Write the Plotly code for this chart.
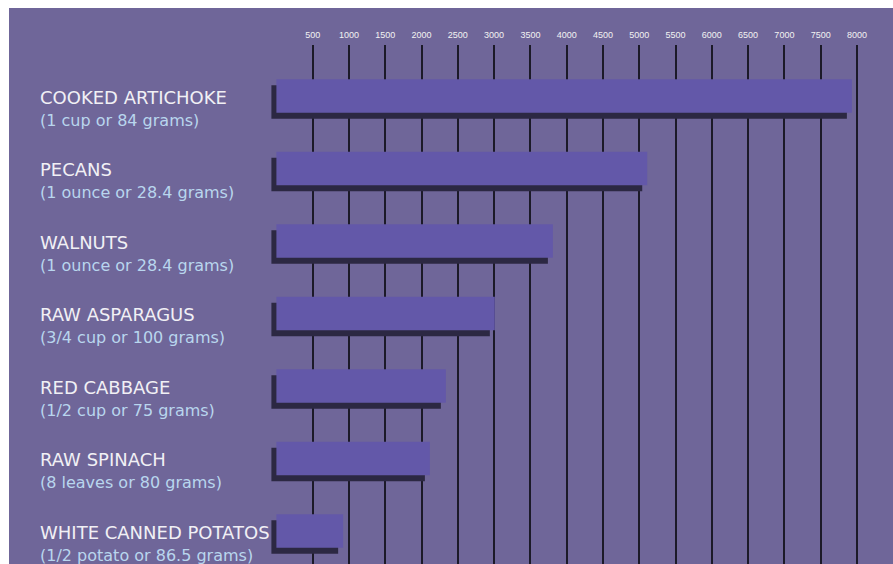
import plotly.graph_objects as go

foods = ["COOKED ARTICHOKE", "PECANS", "WALNUTS", "RAW ASPARAGUS",
         "RED CABBAGE", "RAW SPINACH", "WHITE CANNED POTATOS"]
servings = ["(1 cup or 84 grams)", "(1 ounce or 28.4 grams)", "(1 ounce or 28.4 grams)",
            "(3/4 cup or 100 grams)", "(1/2 cup or 75 grams)", "(8 leaves or 80 grams)",
            "(1/2 potato or 86.5 grams)"]
values = [7930, 5110, 3810, 3010, 2335, 2115, 920]
tick_values = [500, 1000, 1500, 2000, 2500, 3000, 3500, 4000,
               4500, 5000, 5500, 6000, 6500, 7000, 7500, 8000]

BG = "#6f6699"
BAR = "#6358a9"
SHADOW = "#2c2843"
W, H = 893, 564
ML, MR, MT, MB = 9, 3, 45, 0
plot_w = W - ML - MR
plot_h = H - MT - MB

# x scale: 0 sits at ~276px, each 500 step is ~36.3px
px_per_unit = 0.07257
x0 = -(276.4 - ML) / px_per_unit
x1 = x0 + plot_w / px_per_unit

# y: category centres from 96px spaced 72.5px apart
top_idx = (MT - 96) / 72.5
bot_idx = (H - 96) / 72.5

bar_w = 0.46
sx = 5 / px_per_unit          # shadow shift left (data units)
sy = 6 / 72.5                 # shadow shift down (category units)

idx = list(range(len(foods)))

fig = go.Figure()
fig.add_trace(go.Bar(
    y=idx, x=values, base=[-sx] * len(values), orientation="h",
    width=bar_w, offset=-bar_w / 2 + sy,
    marker=dict(color=SHADOW, line=dict(width=0)), hoverinfo="skip",
))
fig.add_trace(go.Bar(
    y=idx, x=values, orientation="h", width=bar_w, offset=-bar_w / 2,
    marker=dict(color=BAR, line=dict(width=0)),
))

label_font = "DejaVu Sans, Verdana, sans-serif"
lab_x = (38 - ML) / plot_w
for i, (f, s) in enumerate(zip(foods, servings)):
    fig.add_annotation(x=lab_x, xref="paper", y=i, yref="y", text=f, yshift=-1,
                       showarrow=False, xanchor="left", yanchor="middle",
                       font=dict(family=label_font, size=18, color="#f1f0f5"))
    fig.add_annotation(x=lab_x, xref="paper", y=i, yref="y", text=s, yshift=-24,
                       showarrow=False, xanchor="left", yanchor="middle",
                       font=dict(family=label_font, size=16, color="#b9d6ee"))

# white frame strips along the top and left edges
fig.add_shape(type="rect", xref="paper", yref="paper",
              x0=-ML / plot_w - 0.01, x1=1.01, y0=1 + (MT - 8) / plot_h, y1=1 + MT / plot_h + 0.01,
              fillcolor="white", line=dict(width=0), layer="above")
fig.add_shape(type="rect", xref="paper", yref="paper",
              x0=-ML / plot_w - 0.01, x1=0, y0=-0.01, y1=1 + MT / plot_h + 0.01,
              fillcolor="white", line=dict(width=0), layer="above")

fig.update_layout(
    width=W, height=H,
    margin=dict(l=ML, r=MR, t=MT, b=MB),
    paper_bgcolor=BG, plot_bgcolor=BG,
    barmode="overlay", showlegend=False,
    xaxis=dict(range=[x0, x1], side="top", tickvals=tick_values,
               ticktext=[str(t) for t in tick_values],
               showgrid=True, gridcolor="#1c1a28", gridwidth=2,
               zeroline=False, showline=False, ticks="", ticklabelstandoff=4,
               tickfont=dict(family="Liberation Sans, Arial, sans-serif", size=9, color="#f2f2f2")),
    yaxis=dict(range=[bot_idx, top_idx], showticklabels=False, showgrid=False,
               zeroline=False, showline=False),
)

fig.write_html("out.html")
